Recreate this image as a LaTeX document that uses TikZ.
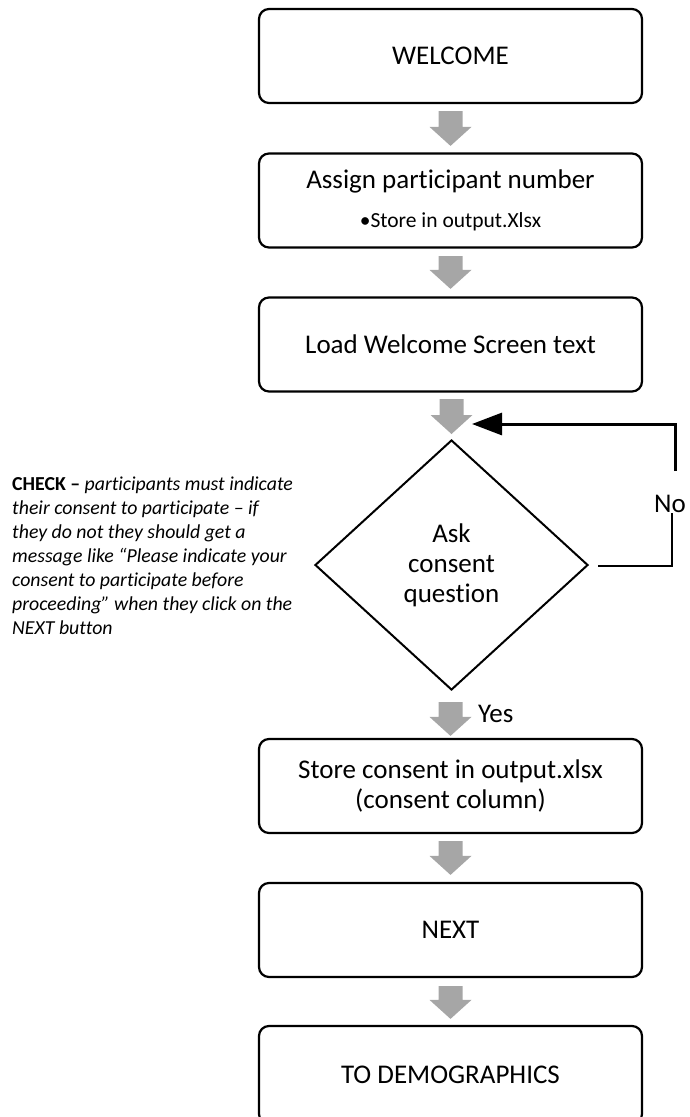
\documentclass[tikz,border=0pt]{standalone}
\usepackage{fontspec}
\setmainfont{Carlito}[Ligatures=NoCommon]
\usetikzlibrary{shapes.geometric,arrows.meta,calc}
\definecolor{arrowgray}{RGB}{166,166,166}

% Gray block arrow between two nodes: #3 = gap below the upper node,
% #4 = gap above the lower node.
\newcommand\flowarrow[4]{%
  \fill[arrowgray]
    ($(#1.south -| #2.north)+(-12,#3)$) -- ($(#1.south -| #2.north)+(12,#3)$)
    -- ($(#2.north)+(12,-#4-19)$) -- ($(#2.north)+(21,-#4-19)$)
    -- ($(#2.north)+(0,-#4)$)
    -- ($(#2.north)+(-21,-#4-19)$) -- ($(#2.north)+(-12,-#4-19)$) -- cycle;}

\begin{document}
\begin{tikzpicture}[x=1pt,y=-1pt,
  every node/.style={font=\fontsize{27}{30}\selectfont},
  flowbox/.style={draw, line width=2.2pt, rounded corners=10pt,
    minimum width=383pt, minimum height=94pt, align=center, inner sep=0pt},
  decision/.style={draw, diamond, line width=2pt, minimum width=273pt,
    minimum height=250pt, inner sep=0pt, align=center},
  loopthin/.style={line width=1.4pt},
  loopthick/.style={line width=3pt},
]
\useasboundingbox (0,0) rectangle (689,1117);
\clip (0,0) rectangle (689,1117);

% process steps
\node[flowbox] (welcome) at (450.5,56) {WELCOME};
\node[flowbox] (assign) at (450.5,200.5)
  {Assign participant number\\[9pt]{\fontsize{21.5}{26}\selectfont •Store in output.Xlsx}};
\node[flowbox] (load) at (450.5,344.5) {Load Welcome Screen text};
\node[decision] (ask) at (451.5,565) {Ask\\consent\\question};
\node[flowbox] (storec) at (450.5,786) {Store consent in output.xlsx\\(consent column)};
\node[flowbox] (next) at (450.5,930) {NEXT};
\node[flowbox, minimum height=98pt] (demo) at (450.5,1075) {TO DEMOGRAPHICS};

% block arrows
\flowarrow{welcome}{assign}{7}{6.5}
\flowarrow{assign}{load}{7.5}{7.5}
\flowarrow{load}{ask}{6.5}{5}
\flowarrow{ask}{storec}{11}{2}
\flowarrow{storec}{next}{7}{7}
\flowarrow{next}{demo}{8}{6}

% branch labels
\node[anchor=base west, inner sep=0pt] (yes) at (478,722) {Yes};
\node[anchor=base, inner sep=1pt] (no) at (670,512) {No};

% "No" loop back to the question
\coordinate (loopbr) at (672,566);
\coordinate (loopup) at (675,471);
\coordinate (looptr) at (675,424);
\coordinate (loopin) at (472,424);
\draw[loopthin] ($(ask.east)+(9,1)$) -- (loopbr) -- (loopbr |- no.south);
\draw[loopthick, -{Triangle[length=30pt,width=22pt]}] (loopup) -- (looptr) -- (loopin);

% side note
\node[anchor=north west, inner sep=0pt, align=left,
  font=\fontsize{19.8}{24}\selectfont\itshape] (check) at (12,477)
  {{\upshape\bfseries CHECK –} participants must indicate\\
   their consent to participate – if\\
   they do not they should get a\\
   message like “Please indicate your\\
   consent to participate before\\
   proceeding” when they click on the\\
   NEXT button};
\end{tikzpicture}
\end{document}
